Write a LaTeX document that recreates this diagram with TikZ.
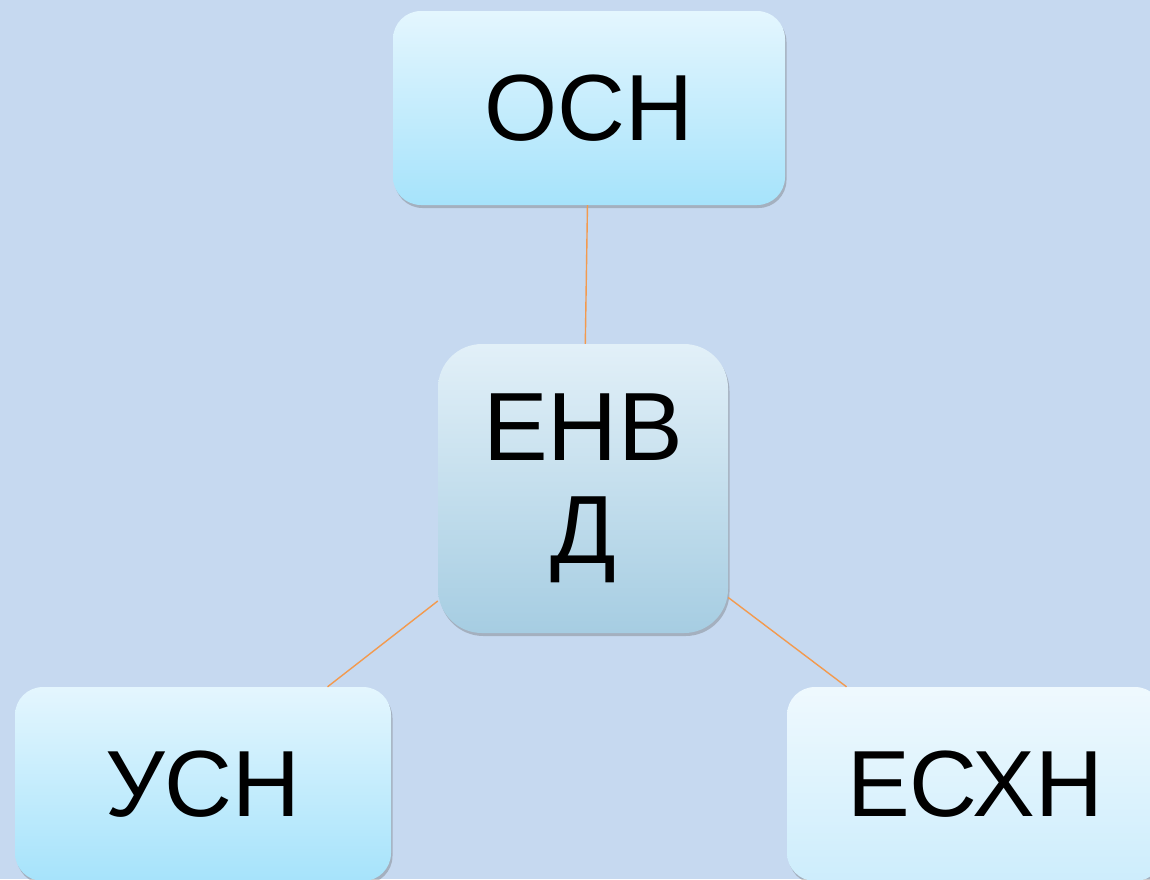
\documentclass[tikz,border=0pt]{standalone}
\usepackage{fontspec}
\setmainfont{Liberation Sans}
\usetikzlibrary{shadows}
\definecolor{bg}{HTML}{C6D9F0}
\definecolor{lnk}{HTML}{F39A4E}
\definecolor{topA}{HTML}{E4F6FE}
\definecolor{botA}{HTML}{A6E3FB}
\definecolor{topB}{HTML}{E2F0F8}
\definecolor{botB}{HTML}{A6CDE2}
\definecolor{topC}{HTML}{EFF9FE}
\definecolor{botC}{HTML}{CDEDFC}
\tikzset{
  box/.style={rounded corners=28pt, inner sep=0pt, align=center,
    font=\fontsize{94}{104}\selectfont,
    drop shadow={shadow xshift=1.5pt, shadow yshift=-3pt, opacity=0.35, fill=black!60}},
  link/.style={draw=lnk, line width=1.4pt}
}
\begin{document}
\begin{tikzpicture}[x=1pt,y=-1pt]
\useasboundingbox (0,0) rectangle (1150,879);
\fill[bg] (0,0) rectangle (1150,879);
\begin{scope}
\clip (0,0) rectangle (1150,879);
\node[box, top color=topA, bottom color=botA, minimum width=392pt, minimum height=194pt] (osn) at (589,108) {ОСН};
\node[box, rounded corners=44pt, top color=topB, bottom color=botB, minimum width=290pt, minimum height=289pt, font=\fontsize{97}{103}\selectfont] (envd) at (583,488.5) {ЕНВ\\Д};
\node[box, top color=topA, bottom color=botA, minimum width=376pt, minimum height=194pt] (usn) at (203,784) {УСН};
\node[box, top color=topC, bottom color=botC, minimum width=376pt, minimum height=194pt] (eshn) at (975,784) {ЕСХН};
\draw[link] (osn) -- (envd);
\draw[link] (envd) -- (usn);
\draw[link] (envd) -- (eshn);
\end{scope}
\end{tikzpicture}
\end{document}
